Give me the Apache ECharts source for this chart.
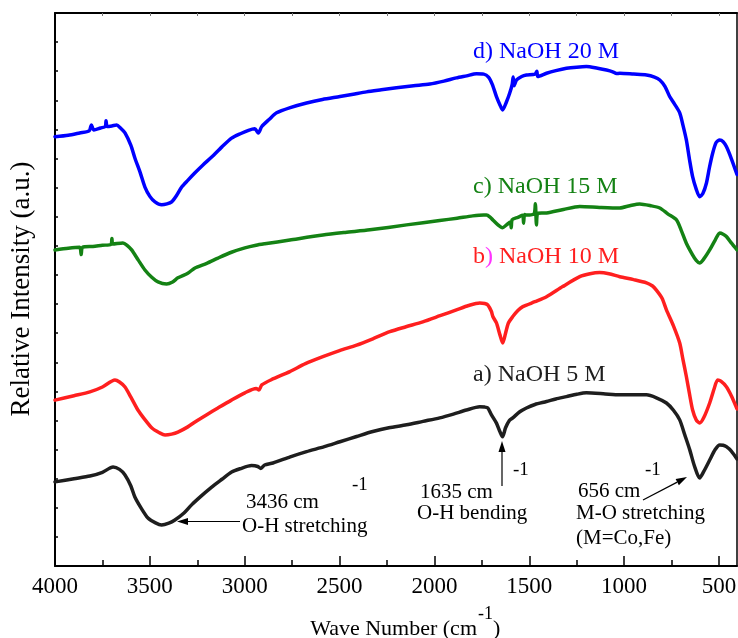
<!DOCTYPE html>
<html>
<head>
<meta charset="utf-8">
<script src="https://cdn.jsdelivr.net/npm/echarts@6/dist/echarts.min.js"></script>
<style>
  html, body { margin: 0; padding: 0; background: #fff; }
  #chart { width: 738px; height: 638px; }
</style>
</head>
<body>
<div id="chart"></div>
<script>
// FTIR spectra, [wave number (cm-1), relative intensity (a.u., offset)]
const spectrum20M = [[4000,14.75],[3930,14.80],[3870,14.88],[3820,14.95],[3808,15.15],[3795,14.98],[3760,15.05],[3735,15.10],[3731,15.30],[3725,15.10],[3700,15.12],[3675,15.15],[3655,15.05],[3631,14.88],[3600,14.45],[3579,14.02],[3550,13.50],[3526,13.02],[3500,12.70],[3473,12.51],[3438,12.41],[3410,12.44],[3385,12.51],[3360,12.72],[3332,13.02],[3300,13.25],[3262,13.51],[3220,13.78],[3174,14.05],[3120,14.40],[3069,14.70],[3020,14.86],[2980,14.97],[2947,15.02],[2928,14.88],[2910,15.10],[2870,15.35],[2832,15.57],[2760,15.75],[2674,15.91],[2590,16.03],[2498,16.13],[2420,16.22],[2358,16.29],[2280,16.36],[2200,16.43],[2110,16.50],[2024,16.56],[1950,16.66],[1884,16.77],[1830,16.84],[1778,16.91],[1740,16.90],[1715,16.80],[1695,16.55],[1673,16.13],[1655,15.85],[1641,15.67],[1620,15.95],[1603,16.25],[1590,16.55],[1585,16.80],[1580,16.50],[1567,16.70],[1540,16.82],[1515,16.87],[1470,16.90],[1460,17.00],[1455,16.82],[1409,16.93],[1360,17.02],[1304,17.10],[1250,17.14],[1199,17.16],[1140,17.10],[1093,17.04],[1060,16.98],[1040,16.92],[1023,16.93],[950,16.90],[882,16.87],[840,16.80],[812,16.70],[785,16.48],[760,16.13],[735,15.88],[707,15.57],[690,15.15],[672,14.64],[655,13.95],[639,13.38],[620,12.95],[602,12.69],[585,12.80],[566,13.16],[550,13.70],[533,14.19],[515,14.55],[496,14.64],[478,14.58],[461,14.41],[435,14.00],[405,13.45]];

const spectrum15M = [[4000,10.86],[3930,10.92],[3870,10.95],[3862,10.70],[3855,10.95],[3800,10.98],[3750,11.02],[3705,11.05],[3700,11.25],[3695,11.06],[3642,11.10],[3620,11.02],[3596,10.86],[3560,10.50],[3526,10.17],[3490,9.92],[3457,9.76],[3412,9.69],[3380,9.76],[3352,9.90],[3300,10.06],[3262,10.24],[3200,10.40],[3141,10.58],[3070,10.78],[2999,10.93],[2940,11.02],[2894,11.07],[2762,11.20],[2588,11.37],[2470,11.46],[2340,11.55],[2147,11.72],[1972,11.87],[1880,11.95],[1798,12.03],[1740,12.06],[1725,12.06],[1705,11.98],[1692,11.89],[1665,11.72],[1641,11.62],[1620,11.72],[1600,11.82],[1595,11.62],[1590,11.90],[1560,11.98],[1535,12.05],[1530,11.78],[1525,12.08],[1515,12.06],[1475,12.10],[1468,12.45],[1462,11.72],[1455,12.12],[1409,12.13],[1320,12.25],[1234,12.35],[1130,12.32],[1023,12.30],[970,12.38],[918,12.44],[860,12.38],[812,12.30],[770,12.10],[724,11.89],[700,11.55],[672,11.09],[640,10.70],[620,10.50],[602,10.41],[580,10.55],[549,10.86],[520,11.20],[496,11.44],[478,11.40],[461,11.32],[435,11.10],[405,10.86]];

const spectrum10M = [[4000,5.70],[3900,5.85],[3816,5.98],[3750,6.15],[3684,6.39],[3660,6.32],[3631,6.15],[3600,5.80],[3563,5.36],[3525,5.02],[3489,4.74],[3450,4.58],[3420,4.50],[3385,4.53],[3352,4.60],[3300,4.78],[3262,4.95],[3200,5.20],[3141,5.43],[3070,5.70],[2999,5.95],[2940,6.10],[2925,6.05],[2910,6.22],[2860,6.40],[2762,6.68],[2680,6.95],[2588,7.19],[2500,7.40],[2410,7.59],[2320,7.82],[2235,8.05],[2150,8.22],[2061,8.39],[1970,8.60],[1884,8.80],[1820,8.95],[1761,9.04],[1735,9.02],[1719,8.97],[1700,8.75],[1692,8.57],[1673,8.35],[1655,7.95],[1640,7.66],[1625,8.00],[1610,8.35],[1587,8.57],[1560,8.78],[1534,8.91],[1470,9.08],[1409,9.25],[1324,9.60],[1234,9.94],[1180,10.04],[1129,10.08],[1080,10.04],[1023,9.94],[950,9.84],[882,9.73],[850,9.62],[830,9.48],[800,9.20],[777,8.80],[740,8.25],[707,7.66],[690,7.10],[672,6.51],[655,5.90],[639,5.36],[620,5.02],[602,4.91],[580,5.10],[549,5.60],[525,6.10],[507,6.39],[490,6.35],[461,6.16],[435,5.85],[405,5.40]];

const spectrum5M = [[4000,2.89],[3900,3.00],[3816,3.09],[3750,3.22],[3694,3.40],[3660,3.32],[3631,3.13],[3600,2.75],[3579,2.37],[3545,1.98],[3510,1.65],[3470,1.48],[3438,1.41],[3400,1.47],[3368,1.58],[3320,1.82],[3280,2.10],[3230,2.40],[3174,2.71],[3120,2.98],[3069,3.23],[3025,3.34],[2964,3.45],[2931,3.42],[2915,3.35],[2895,3.47],[2851,3.54],[2760,3.75],[2674,3.93],[2580,4.10],[2498,4.27],[2410,4.45],[2325,4.62],[2240,4.75],[2147,4.85],[2060,4.97],[1972,5.09],[1900,5.22],[1831,5.36],[1761,5.47],[1735,5.46],[1719,5.43],[1700,5.20],[1673,4.91],[1655,4.62],[1641,4.44],[1625,4.75],[1605,5.00],[1587,5.09],[1550,5.30],[1515,5.43],[1470,5.55],[1409,5.65],[1360,5.74],[1304,5.82],[1250,5.90],[1199,5.95],[1110,5.92],[1023,5.88],[950,5.88],[882,5.88],[830,5.78],[777,5.60],[740,5.35],[707,5.02],[680,4.50],[654,3.99],[630,3.45],[602,3.02],[580,3.25],[549,3.64],[520,4.00],[496,4.16],[478,4.15],[461,4.10],[435,3.95],[405,3.68]];

const seriesNames = ['a) NaOH 5 M', 'b) NaOH 10 M', 'c) NaOH 15 M', 'd) NaOH 20 M'];
const seriesColors = ['#1e1e1e', '#ff1f1f', '#148214', '#0000ff'];
const majorTicks = [500, 1000, 1500, 2000, 2500, 3000, 3500, 4000];
const minorTicks = [750, 1250, 1750, 2250, 2750, 3250, 3750];
const topTicks = [500, 750, 1000, 1250, 1500, 1750, 2000, 2250, 2500, 2750, 3000, 3250, 3500, 3750];

const FONT = "'Liberation Serif', 'Times New Roman', serif";
const chart = echarts.init(document.getElementById('chart'), null, { renderer: 'canvas' });

const xBase = { type: 'value', min: 405, max: 4000, inverse: true, splitLine: { show: false } };
const lineStyleAxis = { color: '#000', width: 2 };

function txt(text, x, y, size, color, align, extra) {
  return Object.assign({
    type: 'text', x: x, y: y, z: 20,
    style: { text: text, fill: color || '#000', fontSize: size, fontFamily: FONT,
             align: align || 'left', verticalAlign: 'middle' }
  }, extra || {});
}
function arrow(x1, y1, x2, y2) {
  const ang = Math.atan2(y2 - y1, x2 - x1);
  const L = 11, W = 3.5;
  const bx = x2 - L * Math.cos(ang), by = y2 - L * Math.sin(ang);
  const px = -Math.sin(ang) * W, py = Math.cos(ang) * W;
  return [
    { type: 'line', z: 20, shape: { x1: x1, y1: y1, x2: bx, y2: by }, style: { stroke: '#000', lineWidth: 1.2 } },
    { type: 'polygon', z: 20, shape: { points: [[x2, y2], [bx + px, by + py], [bx - px, by - py]] }, style: { fill: '#000' } }
  ];
}

const spectra = [spectrum5M, spectrum10M, spectrum15M, spectrum20M];

chart.setOption({
  animation: false,
  backgroundColor: '#fff',
  grid: { left: 55, right: 1, top: 13, bottom: 72, containLabel: false, outerBoundsMode: 'none' },
  xAxis: [
    Object.assign({}, xBase, {
      position: 'bottom',
      axisLine: { lineStyle: lineStyleAxis },
      axisTick: { inside: true, length: 10, customValues: majorTicks, lineStyle: { color: '#000', width: 1.5 } },
      axisLabel: { customValues: majorTicks, fontSize: 23, fontFamily: FONT, color: '#000', margin: 9,
                   formatter: v => String(v) }
    }),
    Object.assign({}, xBase, {
      position: 'bottom',
      axisLine: { show: false },
      axisTick: { inside: true, length: 6, customValues: minorTicks, lineStyle: { color: '#000', width: 1.5 } },
      axisLabel: { show: false }
    }),
    Object.assign({}, xBase, {
      position: 'top',
      axisLine: { lineStyle: lineStyleAxis },
      axisTick: { inside: true, length: 3, customValues: topTicks, lineStyle: { color: '#777', width: 1 } },
      axisLabel: { show: false }
    })
  ],
  yAxis: [
    {
      type: 'value', min: 0, max: 19, interval: 1, position: 'left',
      axisLine: { show: true, lineStyle: lineStyleAxis },
      axisTick: { show: true, inside: true, length: 3, lineStyle: { color: '#000', width: 1.5 } },
      axisLabel: { show: false }, splitLine: { show: false }
    },
    {
      type: 'value', min: 0, max: 19, position: 'right',
      axisLine: { show: true, lineStyle: { color: '#000', width: 1.5 } },
      axisTick: { show: false }, axisLabel: { show: false }, splitLine: { show: false }
    }
  ],
  series: spectra.map((d, i) => ({
    name: seriesNames[i], type: 'line', data: d, showSymbol: false, symbol: 'none',
    xAxisIndex: 0, yAxisIndex: 0, smooth: 0.25, clip: true,
    lineStyle: { color: seriesColors[i], width: 3.5, join: 'round', cap: 'round' }
  })),
  graphic: [
    // axis titles
    txt('Relative Intensity (a.u.)', 22, 289, 27, '#000', 'center', { rotation: Math.PI / 2 }),
    txt('Wave Number (cm', 477, 629, 22, '#000', 'right'),
    txt('-1', 478, 614, 18, '#000', 'left'),
    txt(')', 493, 629, 22, '#000', 'left'),
    // series labels
    txt(seriesNames[3], 473, 52, 24, seriesColors[3]),
    txt(seriesNames[2], 473, 187, 24, seriesColors[2]),
    {
      type: 'text', x: 473, y: 257, z: 20,
      style: {
        text: '{r|b}{m|)}{r| NaOH 10 M}', verticalAlign: 'middle', align: 'left',
        rich: {
          r: { fontSize: 24, fontFamily: FONT, fill: seriesColors[1] },
          m: { fontSize: 24, fontFamily: FONT, fill: '#ff33ff' }
        }
      }
    },
    txt(seriesNames[0], 473, 375, 24, seriesColors[0]),
    // band annotations
    txt('3436 cm', 246, 502, 21),
    txt('-1', 352, 485, 19),
    txt('O-H stretching', 242, 526, 21),
    ...arrow(240, 521.5, 177, 521.5),
    txt('1635 cm', 420, 492, 21),
    txt('-1', 513, 470, 19),
    txt('O-H bending', 417, 513, 21),
    ...arrow(502, 486, 502, 441),
    txt('656 cm', 578, 491, 21),
    txt('-1', 645, 470, 19),
    txt('M-O stretching', 576, 513, 21),
    txt('(M=Co,Fe)', 576, 538, 21),
    ...arrow(643, 500, 687, 477)
  ]
});
</script>
</body>
</html>
